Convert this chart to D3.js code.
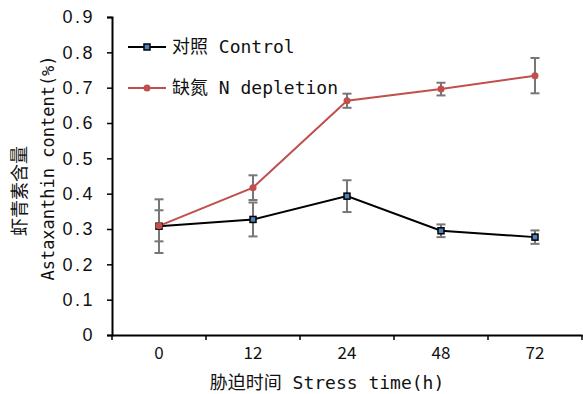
<!DOCTYPE html>
<html>
<head>
<meta charset="utf-8">
<script src="https://cdn.jsdelivr.net/npm/d3@7"></script>
<style>
  html, body { margin: 0; padding: 0; background: #fff; }
  svg text { font-family: "DejaVu Sans Mono", "Noto Sans CJK SC", monospace; fill: #111; }
</style>
</head>
<body>
<div id="chart"></div>
<script>
'use strict';

// Stress time categories (h)
const timeLabels = ['0', '12', '24', '48', '72'];

// Astaxanthin content (%)
const controlValues = [0.308, 0.327, 0.393, 0.295, 0.277];
const controlErrors = [0.076, 0.048, 0.045, 0.018, 0.019];

const nDepletionValues = [0.309, 0.417, 0.663, 0.696, 0.734];
const nDepletionErrors = [0.044, 0.035, 0.020, 0.018, 0.050];

const yTicks = [0, 0.1, 0.2, 0.3, 0.4, 0.5, 0.6, 0.7, 0.8, 0.9];

const seriesList = [
    { name: '对照 Control', values: controlValues, errors: controlErrors, color: '#000', marker: 'square' },
    { name: '缺氮 N depletion', values: nDepletionValues, errors: nDepletionErrors, color: '#C0504D', marker: 'circle' },
];

const W = 583, H = 394;
const margin = { top: 17, right: 1, bottom: 59, left: 112 };

const svg = d3.select('#chart').append('svg')
    .attr('width', W).attr('height', H).attr('viewBox', `0 0 ${W} ${H}`);

const x = d3.scaleBand()
    .domain(timeLabels)
    .range([margin.left, W - margin.right]);

const y = d3.scaleLinear()
    .domain([0, 0.9])
    .range([H - margin.bottom, margin.top]);

const cx = d => x(d) + x.bandwidth() / 2;

// Axes
const yAxis = svg.append('g')
    .attr('transform', `translate(${margin.left},0)`)
    .call(d3.axisLeft(y).tickValues(yTicks).tickSize(5).tickPadding(12)
        .tickFormat(d => d === 0 ? '0' : d3.format('.1f')(d)));
yAxis.select('.domain').attr('stroke', '#000').attr('stroke-width', 2);
yAxis.selectAll('.tick line').attr('stroke', '#000').attr('stroke-width', 1.5);
yAxis.selectAll('.tick text')
    .attr('font-size', 18)
    .style('font-family', '"Liberation Sans", Arial, sans-serif')
    .attr('letter-spacing', 2.5);

const xAxis = svg.append('g')
    .attr('transform', `translate(0,${H - margin.bottom})`)
    .call(d3.axisBottom(x).tickSize(0).tickPadding(12));
xAxis.select('.domain').attr('stroke', '#000').attr('stroke-width', 2);
xAxis.selectAll('.tick text')
    .attr('font-size', 17)
    .style('font-family', '"Noto Sans CJK SC", sans-serif');

// category boundary ticks on the x axis
svg.append('g').selectAll('line')
    .data(timeLabels.concat(['end']))
    .join('line')
    .attr('x1', (d, i) => i < timeLabels.length ? x(d) : x(timeLabels[timeLabels.length - 1]) + x.bandwidth())
    .attr('x2', (d, i) => i < timeLabels.length ? x(d) : x(timeLabels[timeLabels.length - 1]) + x.bandwidth())
    .attr('y1', H - margin.bottom)
    .attr('y2', H - margin.bottom + 5)
    .attr('stroke', '#000').attr('stroke-width', 1.5);

// Axis titles
svg.append('text')
    .attr('x', 327).attr('y', 389)
    .attr('text-anchor', 'middle')
    .attr('font-size', 18)
    .text('胁迫时间 Stress time(h)');

svg.append('text')
    .attr('transform', 'translate(26,191) rotate(-90)')
    .attr('text-anchor', 'middle')
    .attr('font-size', 18)
    .style('font-family', '"Noto Sans CJK SC", sans-serif')
    .text('虾青素含量');

svg.append('text')
    .attr('transform', 'translate(54,168) rotate(-90)')
    .attr('text-anchor', 'middle')
    .attr('font-size', 17)
    .text('Astaxanthin content(%)');

const line = d3.line()
    .x((d, i) => cx(timeLabels[i]))
    .y(d => y(d));

seriesList.forEach(s => {
    svg.append('path')
        .datum(s.values)
        .attr('fill', 'none')
        .attr('stroke', s.color)
        .attr('stroke-width', 2)
        .attr('d', line);
});

// Error bars
seriesList.forEach(s => {
    const g = svg.append('g').attr('stroke', '#777').attr('stroke-width', 2);
    s.values.forEach((v, i) => {
        const px = cx(timeLabels[i]);
        const top = y(v + s.errors[i]);
        const bot = y(v - s.errors[i]);
        g.append('line').attr('x1', px).attr('x2', px).attr('y1', top).attr('y2', bot);
        g.append('line').attr('x1', px - 4.5).attr('x2', px + 4.5).attr('y1', top).attr('y2', top);
        g.append('line').attr('x1', px - 4.5).attr('x2', px + 4.5).attr('y1', bot).attr('y2', bot);
    });
});

function drawMarker(g, s, px, py) {
    if (s.marker === 'square') {
        g.append('rect')
            .attr('x', px - 3).attr('y', py - 3).attr('width', 6).attr('height', 6)
            .attr('fill', '#4F81BD').attr('stroke', '#000').attr('stroke-width', 1.5);
    } else {
        g.append('circle')
            .attr('cx', px).attr('cy', py).attr('r', 3.5)
            .attr('fill', s.color);
    }
}

// Markers
seriesList.forEach(s => {
    const g = svg.append('g');
    s.values.forEach((v, i) => drawMarker(g, s, cx(timeLabels[i]), y(v)));
});

// Legend
const legendY = [47, 88];
seriesList.forEach((s, i) => {
    const g = svg.append('g');
    g.append('line')
        .attr('x1', 128).attr('x2', 166).attr('y1', legendY[i]).attr('y2', legendY[i])
        .attr('stroke', s.color).attr('stroke-width', 2);
    drawMarker(g, s, 147, legendY[i]);
    g.append('text')
        .attr('x', 172).attr('y', legendY[i] + 6)
        .attr('font-size', 18)
        .text(s.name);
});
</script>
</body>
</html>
